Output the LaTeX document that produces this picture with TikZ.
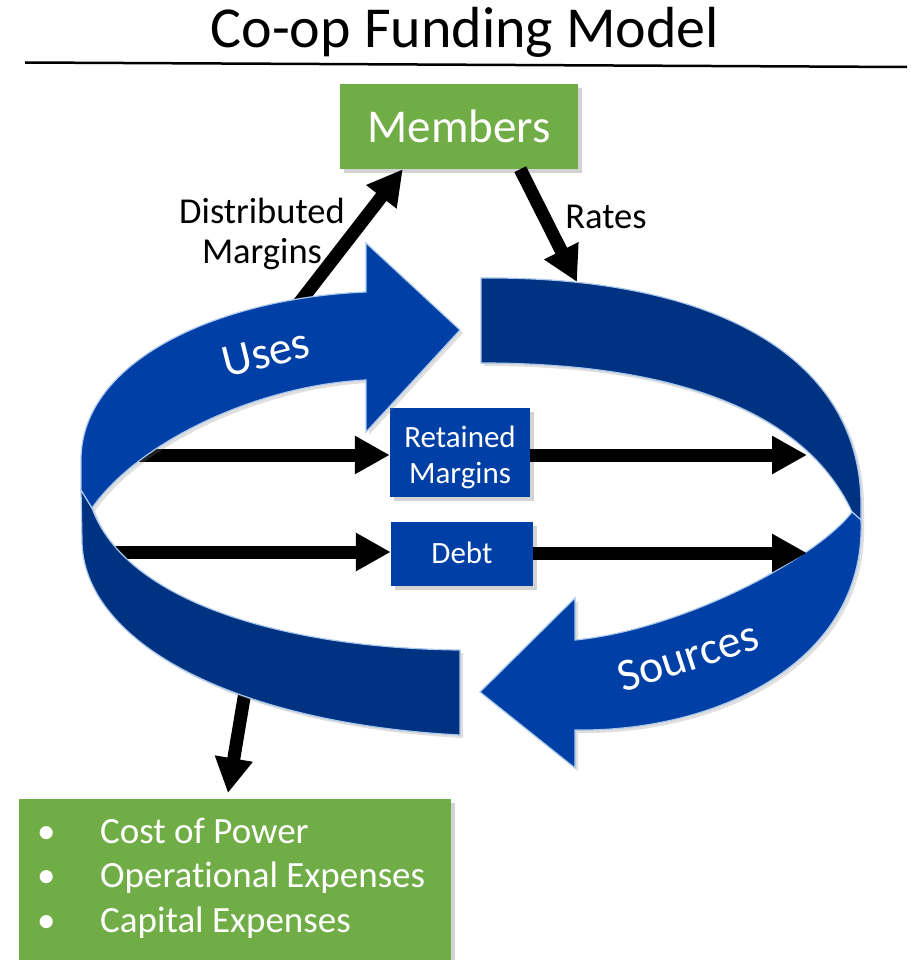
\documentclass[tikz,border=0pt]{standalone}
\usepackage{fontspec}
\setmainfont{Carlito}[Ligatures=NoCommon]
\usetikzlibrary{arrows.meta,shadows}
\definecolor{coopgreen}{HTML}{70AD47}
\definecolor{ringlight}{HTML}{003FA5}
\definecolor{ringdark}{HTML}{003282}
\definecolor{ringedge}{HTML}{A9C8EC}

\begin{document}
\begin{tikzpicture}[x=1pt,y=-1pt,>={Triangle[width=36pt,length=35pt]},
  big arrow/.style={->,line width=13pt,black},
  box shadow/.style={drop shadow={opacity=0.35,shadow xshift=4pt,shadow yshift=-4pt}},
  green box/.style={rectangle,fill=coopgreen,text=white,inner sep=0pt,box shadow},
  blue box/.style={rectangle,fill=ringlight,text=white,inner sep=0pt,box shadow},
  light ring/.style={fill=ringlight,draw=ringedge,line width=1.2pt,drop shadow={opacity=0.25,shadow xshift=3pt,shadow yshift=-3pt}},
  dark ring/.style={fill=ringdark,draw=ringedge,line width=1.2pt,drop shadow={opacity=0.25,shadow xshift=3pt,shadow yshift=-3pt}}]

  \useasboundingbox (0,0) rectangle (910,960);
  \clip (0,0) rectangle (910,960);

  \node[anchor=base,font={\fontsize{58}{70}\selectfont}] (title) at (465,48) {Co-op Funding Model};
  \draw[line width=2.5pt] (25,62.5) -- (907,67);

  \node[green box,minimum width=238pt,minimum height=85pt,font={\fontsize{47}{56}\selectfont}] (members) at (459,126.5) {Members};
  \node[blue box,minimum width=140pt,minimum height=89pt,align=center,text height=61pt,text depth=0pt,font={\fontsize{31}{36}\selectfont}] (rm) at (460,452.5) {Retained\\Margins};
  \node[blue box,minimum width=142pt,minimum height=64pt,font={\fontsize{31}{36}\selectfont}] (debt) at (462,554) {\raisebox{3pt}{Debt}};
  \node[green box,anchor=north west,minimum width=432pt,minimum height=180pt] (costs) at (19,799) {};
  \node[anchor=base west,inner sep=0pt,text=white,font={\fontsize{37}{44.5}\selectfont}] (costlist) at (37,843)
    {\begin{tabular}[t]{@{}p{63pt}@{}l@{}}
      \textbullet & Cost of Power\\
      \textbullet & Operational Expenses\\
      \textbullet & Capital Expenses
    \end{tabular}};

  \node[anchor=base,align=center,font={\fontsize{36.5}{40}\selectfont}] (dmlabel) at (262,263) {Distributed\\Margins};
  \node[anchor=base,font={\fontsize{36.5}{40}\selectfont}] (rateslabel) at (606,228) {Rates};

  \coordinate (dmtail) at (286,320);
  \coordinate (coststail) at (247,680);
  \coordinate (rmin) at (118,455);
  \coordinate (rmout) at (807,455);
  \coordinate (debtin) at (105,552);
  \coordinate (debtout) at (807,553);
  \coordinate (ratestip) at (577,282);

  \draw[big arrow] (dmtail) -- ([xshift=63pt]members.south west);
  \draw[big arrow,shorten >=6pt] (coststail) -- ([xshift=208pt]costs.north west);
  \draw[big arrow] (rmin) -- (rmin -| rm.west);
  \draw[big arrow] (debtin) -- (debtin -| debt.west);

  \filldraw[dark ring] (81,490) -- (82,540) .. controls (82,640) and (230,723) .. (460,735)
    -- (460,650) .. controls (280,648) and (125,600) .. (92,508) -- cycle;
  \filldraw[light ring] (81,490) -- (81,460) .. controls (81,360) and (220,298) .. (366,292)
    -- (366,243) -- (460,330) -- (366,432)
    -- (366,380) .. controls (260,385) and (140,440) .. (92,508) -- cycle;
  \filldraw[dark ring] (481,278) .. controls (720,276) and (861,360) .. (861,505) -- (861,520)
    -- (852,512) .. controls (800,400) and (650,363) .. (481,363) -- cycle;
  \filldraw[light ring] (852,512) .. controls (815,560) and (680,630) .. (575,640)
    -- (575,598) -- (480,692) -- (575,768)
    -- (575,730) .. controls (720,732) and (866,660) .. (861,520) -- cycle;

  \node[rotate=14,text=white,font={\fontsize{46}{50}\selectfont}] (uses) at (266,353) {Uses};
  \node[rotate=18,text=white,font={\fontsize{46}{50}\selectfont}] (sources) at (688,656) {Sources};

  \draw[big arrow] (rmout -| rm.east) -- (rmout);
  \draw[big arrow] (debtout -| debt.east) -- (debtout);
  \draw[big arrow] ([xshift=-58pt]members.south east) -- (ratestip);
\end{tikzpicture}
\end{document}
